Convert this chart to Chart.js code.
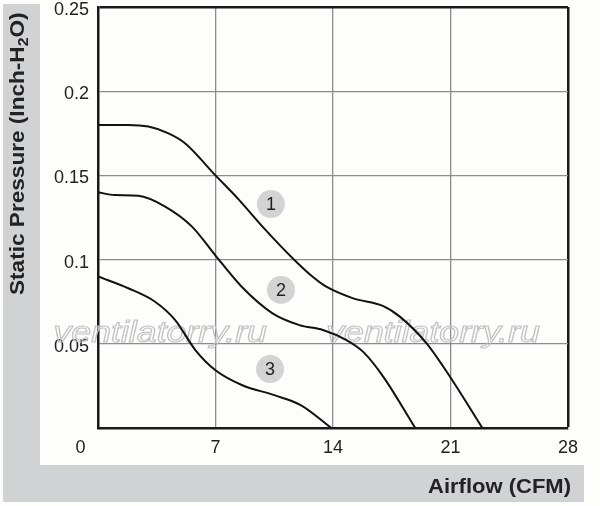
<!DOCTYPE html>
<html><head><meta charset="utf-8">
<script src="https://cdn.jsdelivr.net/npm/chart.js@4/dist/chart.umd.min.js"></script>
<style>html,body{margin:0;padding:0;background:#fdfdfc;}canvas{display:block;}</style>
</head><body>
<canvas id="c" width="600" height="506"></canvas>
<script>
// ---- data ----
const xTicks = [0, 7, 14, 21, 28];
const yTicks = [0.05, 0.1, 0.15, 0.2, 0.25];
const curve1X = [0, 1.8, 3.0, 4.2, 5.2, 7.0, 8.4, 9.8, 11.7, 12.9, 13.6, 15.2, 17.0, 18.0, 19.6, 21.0, 22.9];
const curve1Y = [0.180, 0.180, 0.179, 0.175, 0.169, 0.150, 0.1355, 0.1196, 0.0998, 0.0889, 0.0839, 0.077, 0.0724, 0.066, 0.050, 0.030, 0];
const curve2X = [0, 1.0, 2.4, 4.0, 5.6, 7.0, 8.56, 10.4, 12.0, 13.4, 14.8, 15.8, 17.0, 18.9];
const curve2Y = [0.14, 0.1383, 0.1379, 0.1315, 0.1196, 0.1024, 0.0839, 0.0681, 0.0611, 0.0582, 0.0522, 0.0452, 0.0304, 0];
const curve3X = [0, 1.8, 3.4, 4.6, 5.8, 7.0, 8.6, 10.5, 12.1, 13.9];
const curve3Y = [0.09, 0.083, 0.075, 0.0641, 0.0463, 0.0343, 0.0254, 0.0195, 0.0135, 0];
const markerX = [10.3, 10.9, 10.25];
const markerY = [0.133, 0.082, 0.035];
const markerLabels = ['1', '2', '3'];
const xTitle = 'Airflow (CFM)';
const yTitleParts = ['Static Pressure (Inch-H', '2', 'O)'];
const watermark = 'ventilatorry.ru';

const FONT = "'Liberation Sans', Arial, sans-serif";
const zip = (xs, ys) => xs.map((x, i) => ({x, y: ys[i]}));

const lineDs = (xs, ys) => ({
  type: 'line', data: zip(xs, ys), borderColor: '#111', borderWidth: 2,
  pointRadius: 0, fill: false, cubicInterpolationMode: 'monotone'
});

const decor = {
  id: 'decor',
  beforeDraw(chart) {
    const c = chart.ctx;
    c.save();
    c.fillStyle = '#fdfdfc';
    c.fillRect(0, 0, chart.width, chart.height);
    c.fillStyle = '#d1d2d4';
    c.fillRect(3, 4, 37, 498);
    c.fillRect(3, 465, 581, 37);
    // axis titles
    c.fillStyle = '#222';
    c.textBaseline = 'alphabetic';
    c.save();
    c.translate(571, 493);
    c.scale(1.1, 1);
    c.font = 'bold 20px ' + FONT;
    c.textAlign = 'right';
    c.fillText(xTitle, 0, 0);
    c.restore();
    c.translate(23.5, 295);
    c.rotate(-Math.PI / 2);
    c.scale(1.13, 1);
    c.textAlign = 'left';
    let x = 0;
    c.font = 'bold 20px ' + FONT;
    c.fillText(yTitleParts[0], x, 0);
    x += c.measureText(yTitleParts[0]).width;
    c.font = 'bold 14px ' + FONT;
    c.fillText(yTitleParts[1], x, 4);
    x += c.measureText(yTitleParts[1]).width;
    c.font = 'bold 20px ' + FONT;
    c.fillText(yTitleParts[2], x, 0);
    c.restore();
  },
  beforeDatasetsDraw(chart) {
    const c = chart.ctx;
    const xs = chart.scales.x, ys = chart.scales.y;
    c.save();
    c.strokeStyle = '#c2c2c2';
    c.lineWidth = 1.1;
    c.font = 'italic 29px ' + FONT;
    c.textBaseline = 'alphabetic';
    [[xs.getPixelForValue(-2.65), ys.getPixelForValue(0.051)], [xs.getPixelForValue(13.6), ys.getPixelForValue(0.051)]].forEach(([px, py]) => {
      c.save();
      c.translate(px, py);
      c.scale(1.23, 1);
      c.strokeText(watermark, 0, 0);
      c.restore();
    });
    c.restore();
  },
  afterDatasetsDraw(chart) {
    const c = chart.ctx;
    const xs = chart.scales.x, ys = chart.scales.y;
    c.save();
    c.fillStyle = '#222';
    c.font = '18px ' + FONT;
    c.textAlign = 'center';
    c.textBaseline = 'middle';
    markerLabels.forEach((t, i) => {
      c.fillText(t, xs.getPixelForValue(markerX[i]), ys.getPixelForValue(markerY[i]) + 1);
    });
    c.restore();
  }
};

new Chart(document.getElementById('c'), {
  data: {
    datasets: [
      {type: 'scatter', data: zip(markerX, markerY), pointRadius: 14, pointHoverRadius: 14,
       backgroundColor: '#d3d3d3', borderWidth: 0, order: 5},
      lineDs(curve1X, curve1Y),
      lineDs(curve2X, curve2Y),
      lineDs(curve3X, curve3Y)
    ]
  },
  options: {
    responsive: false, animation: false, devicePixelRatio: 1,
    layout: {autoPadding: false, padding: {left: 0, top: 7, right: 32, bottom: 0}},
    plugins: {legend: {display: false}, tooltip: {enabled: false}},
    scales: {
      x: {
        type: 'linear', min: 0, max: 28,
        afterBuildTicks: s => { s.ticks = xTicks.map(v => ({value: v})); },
        afterFit: s => { s.height = 78; s.paddingLeft = 0; s.paddingRight = 0; },
        ticks: {
          color: '#222', font: {size: 18, family: FONT}, padding: 9,
          maxRotation: 0, autoSkip: false,
          callback: v => v === 0 ? '0       ' : String(v)
        },
        grid: {
          drawTicks: false,
          color: c => c.tick && c.tick.value === 28 ? '#1a1a1a' : '#8c8c8c',
          lineWidth: c => c.tick && c.tick.value === 28 ? 2.5 : 1.3
        },
        border: {display: true, color: '#1a1a1a', width: 2.5}
      },
      y: {
        type: 'linear', min: 0, max: 0.25,
        afterBuildTicks: s => { s.ticks = [0].concat(yTicks).map(v => ({value: v})); },
        afterFit: s => { s.width = 98; s.paddingTop = 0; s.paddingBottom = 0; },
        ticks: {
          color: '#222', font: {size: 18, family: FONT}, padding: 9, labelOffset: 3,
          callback: v => v === 0 ? '' : String(v)
        },
        grid: {
          drawTicks: false,
          color: c => c.tick && Math.abs(c.tick.value - 0.25) < 1e-6 ? '#1a1a1a' : '#8c8c8c',
          lineWidth: c => c.tick && Math.abs(c.tick.value - 0.25) < 1e-6 ? 2.5 : 1.3
        },
        border: {display: true, color: '#1a1a1a', width: 2.5}
      }
    }
  },
  plugins: [decor]
});
</script>
</body></html>
